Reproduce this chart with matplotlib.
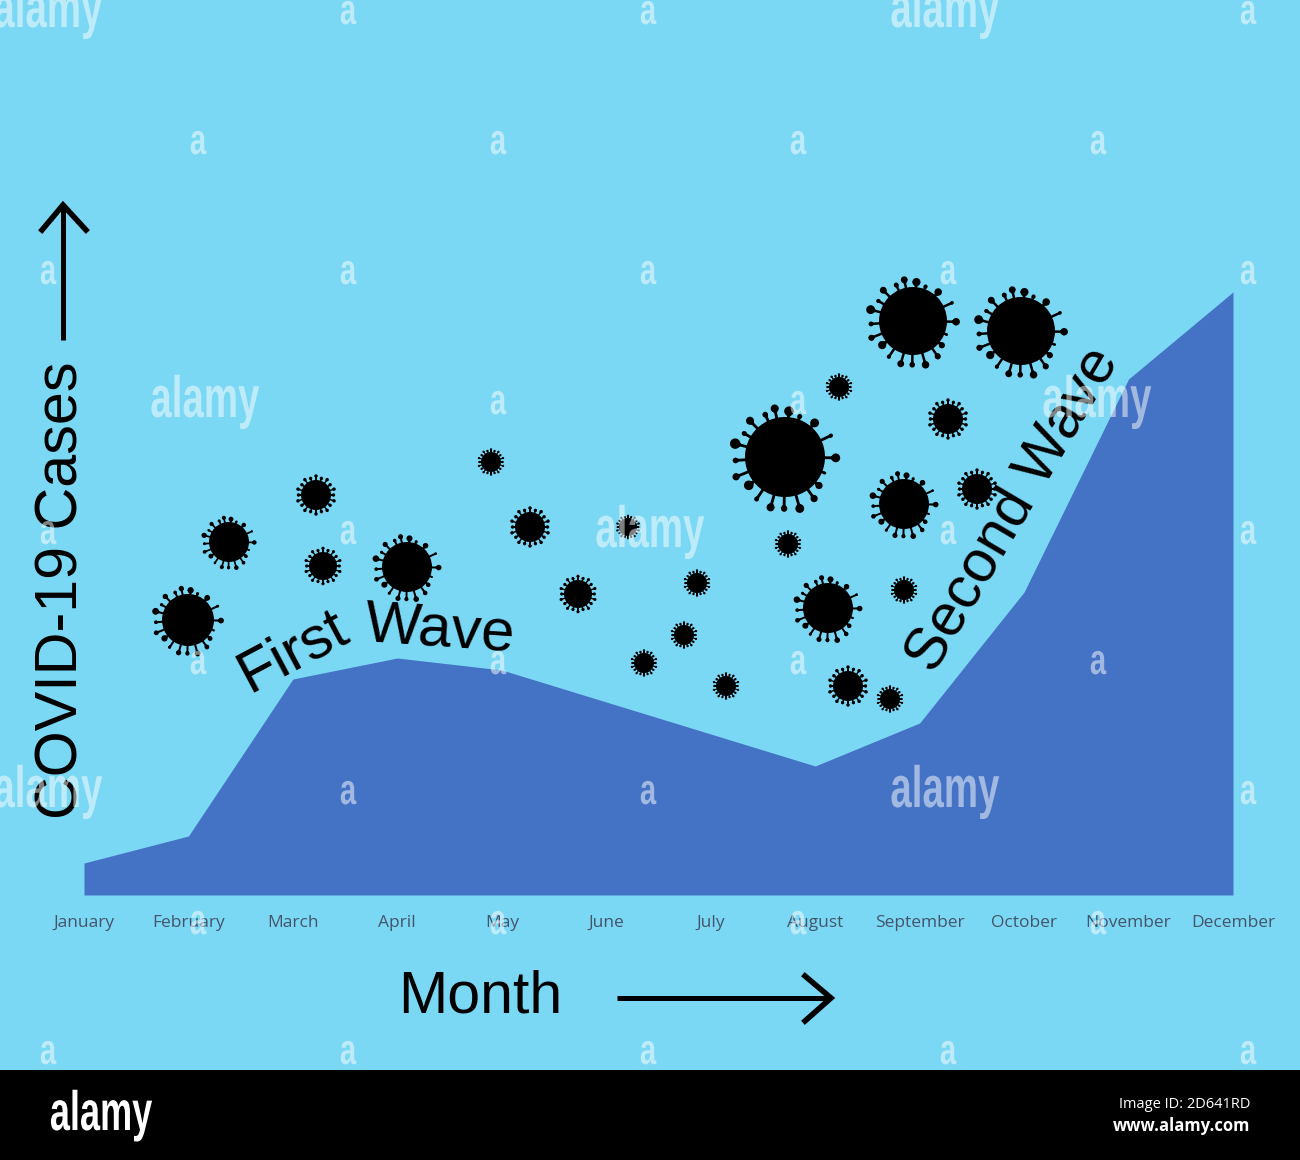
import numpy as np
import matplotlib
matplotlib.use('Agg')
import matplotlib.pyplot as plt
from matplotlib.patches import Circle, Polygon, Rectangle
from matplotlib.patheffects import AbstractPathEffect
from matplotlib.transforms import Affine2D

# chart data, height of the area in arbitrary case units
months = ['January', 'February', 'March', 'April', 'May', 'June', 'July',
          'August', 'September', 'October', 'November', 'December']
cases = [32, 59, 216, 237, 225, 193, 161, 129, 172, 303, 516, 603]

# virus icons: centre x, centre y, body radius (picture pixels)
viruses = [(785, 457, 40), (913, 321, 34), (1021, 331, 34), (839, 387, 10),
           (948, 419, 15), (904, 504, 25), (977, 489, 15), (188, 620, 26),
           (229, 542, 20), (316, 495, 15), (323, 566, 14), (407, 567, 25),
           (491, 462, 10), (530, 527, 15), (578, 594, 14), (628, 527, 9),
           (697, 583, 10), (684, 635, 10), (644, 663, 10), (726, 686, 10),
           (788, 544, 10), (828, 608, 25), (848, 686, 15), (890, 699, 10),
           (904, 590, 10)]

# spikes of the icon: angle, tip distance / radius, head size / radius
spikes = [(102, 1.24, .10), (85, 1.15, .12), (115, 1.17, .07), (134, 1.26, .10),
          (150, 1.18, .06), (165, 1.29, .13), (184, 1.24, .07), (202, 1.32, .09),
          (218, 1.15, .12), (236, 1.27, .06), (254, 1.31, .10), (269, 1.29, .08),
          (286, 1.34, .11), (305, 1.27, .09), (320, 1.11, .09), (338, 1.08, .03),
          (359, 1.27, .11), (25, 1.27, .05), (49, 1.13, .11), (70, 1.08, .06)]

# watermark grid
wm_small = [(348, 12), (648, 12), (1248, 12),
            (198, 142), (498, 142), (798, 142), (1098, 142),
            (48, 272), (348, 272), (648, 272), (948, 272), (1248, 272),
            (498, 402), (798, 402),
            (48, 532), (348, 532), (948, 532), (1248, 532),
            (198, 662), (498, 662), (798, 662), (1098, 662),
            (348, 792), (648, 792), (1248, 792),
            (198, 922), (498, 922), (798, 922), (1098, 922),
            (48, 1052), (348, 1052), (648, 1052), (948, 1052), (1248, 1052)]
wm_big = [(48, 12), (945, 12), (205, 402), (1097, 402), (650, 532), (48, 792), (945, 792)]

BG = '#7BD8F5'
AREA = '#4472C4'


class Squeeze(AbstractPathEffect):
    # narrows the glyphs around the text anchor, the font has no such width
    def __init__(self, ax, x, sx):
        self.ax = ax
        self.x, self.sx = x, sx

    def draw_path(self, renderer, gc, tpath, affine, rgbFace=None):
        px = self.ax.transData.transform((self.x, 0))[0]
        t = affine + Affine2D().translate(-px, 0).scale(self.sx, 1).translate(px, 0)
        renderer.draw_path(gc, tpath, t, rgbFace)


def narrow_text(ov, x, y, s, size, sx, color, alpha=1.0):
    t = ov.text(x, y, s, fontsize=size, family='Liberation Sans', weight='bold',
                ha='center', va='baseline', color=color, alpha=alpha, zorder=20)
    t.set_path_effects([Squeeze(ov, x, sx)])
    return t


def draw_virus(ov, cx, cy, r):
    ov.add_patch(Circle((cx, cy), r, fc='black', ec='none', zorder=5))
    if r < 18:
        # the small icons have a denser, even crown
        table = [(a, 1.27 if i % 2 else 1.17, .11) for i, a in enumerate(np.arange(0, 360, 18))]
    else:
        table = spikes
    for ang, tip, head in table:
        a = np.radians(ang)
        d = np.array([np.cos(a), -np.sin(a)])
        n = np.array([-d[1], d[0]])
        p0 = np.array([cx, cy]) + d * r * 0.95
        p1 = np.array([cx, cy]) + d * r * tip
        w = 0.028 * r + 0.3
        ov.add_patch(Polygon([p0 + n * w, p1 + n * w, p1 - n * w, p0 - n * w],
                             fc='black', ec='none', zorder=5))
        # rounded flared cap on the spike
        hw = max(head * r, 0.9)
        hl = hw * 1.1
        ov.add_patch(Polygon([p1 - d * hl + n * w, p1 + n * hw, p1 - n * hw, p1 - d * hl - n * w],
                             fc='black', ec='none', zorder=5))
        ov.add_patch(Circle(p1, hw, fc='black', ec='none', zorder=5))


fig = plt.figure(figsize=(13, 11.6), dpi=100, facecolor=BG)

# the area chart, axes box runs from January to December
ax = fig.add_axes([84 / 1300, (1160 - 895) / 1160, (1233 - 84) / 1300, 695 / 1160])
ax.patch.set_alpha(0)
x = np.arange(len(months))
ax.fill_between(x, cases, 0, color=AREA, lw=0)
ax.set_xlim(0, 11)
ax.set_ylim(0, 695)
ax.set_xticks(x, months)
ax.set_yticks([])
ax.tick_params(axis='x', length=0, pad=14.5, labelsize=12.5, labelcolor='#44546A')
for label in ax.get_xticklabels():
    label.set_family('Open Sans')
for s in ax.spines.values():
    s.set_visible(False)

# everything else sits on an overlay in picture pixels
ov = fig.add_axes([0, 0, 1, 1])
ov.set_xlim(0, 1300)
ov.set_ylim(1160, 0)
ov.axis('off')
ov.patch.set_alpha(0)

for cx, cy, r in viruses:
    draw_virus(ov, cx, cy, r)

font = 'Liberation Sans'
ov.text(62, 590, 'COVID-19 Cases', rotation=90, fontsize=42.7, family=font,
        ha='center', va='center', rotation_mode='anchor')
ov.text(480, 997, 'Month', fontsize=42.5, family=font, ha='center', va='center')
ov.text(293, 652, 'First', rotation=28, fontsize=43, family=font,
        ha='center', va='center', rotation_mode='anchor')
ov.text(440, 630, 'Wave', rotation=-4, fontsize=43, family=font,
        ha='center', va='center', rotation_mode='anchor')
ov.text(1013, 510, 'Second Wave', rotation=59.5, fontsize=42.5, family=font,
        ha='center', va='center', rotation_mode='anchor')

# axis arrows
ov.plot([63, 63], [340, 205], color='black', lw=3.6, solid_capstyle='butt')
ov.plot([42, 63, 86], [230, 205, 230], color='black', lw=4, solid_joinstyle='miter')
ov.plot([617, 830], [998, 998], color='black', lw=3.6, solid_capstyle='butt')
ov.plot([805, 831, 805], [976, 998, 1021], color='black', lw=4, solid_joinstyle='miter')

# stock photo footer and watermarks
ov.add_patch(Rectangle((0, 1070), 1300, 90, fc='black', ec='none', zorder=15))
narrow_text(ov, 101, 1130, 'alamy', 40, 0.65, 'white')
ov.text(1250, 1104, 'Image ID: 2D641RD', fontsize=10.5, family='Open Sans', color='white',
        ha='right', va='center', zorder=20)
ov.text(1250, 1126, 'www.alamy.com', fontsize=12, family='Open Sans', weight='bold',
        color='white', ha='right', va='center', zorder=20)
for wx, wy in wm_small:
    narrow_text(ov, wx, wy + 12, 'a', 31, 0.68, 'white', 0.5)
for wx, wy in wm_big:
    narrow_text(ov, wx, wy + 15, 'alamy', 42, 0.66, 'white', 0.5)

fig.savefig('out.png', dpi=100, facecolor=BG)
